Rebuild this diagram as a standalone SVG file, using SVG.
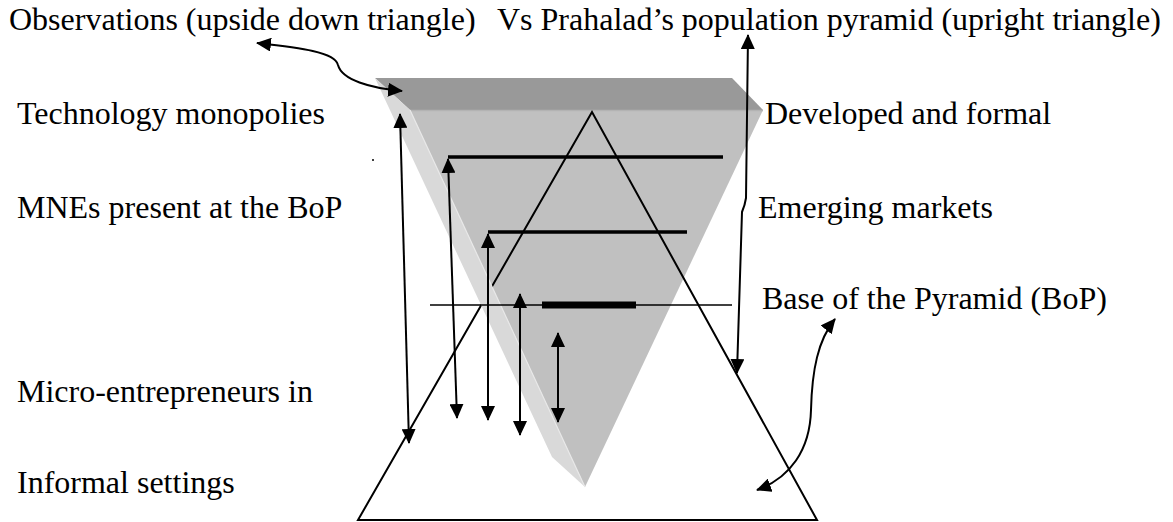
<svg xmlns="http://www.w3.org/2000/svg" width="1173" height="522" viewBox="0 0 1173 522">
  <style>
    .lbl { font-family: "Liberation Serif", "Times New Roman", serif; font-size: 32px; fill: #000; }
    .ln { stroke: #000; fill: none; }
    .arr { stroke: #000; stroke-width: 2; fill: none; marker-start: url(#ah); marker-end: url(#ah); }
  </style>
  <defs>
    <marker id="ah" viewBox="0 0 15 14" markerWidth="15" markerHeight="14" refX="14" refY="7" orient="auto-start-reverse" markerUnits="userSpaceOnUse">
      <path d="M0,0 L15,7 L0,14 Z" fill="#000"/>
    </marker>
  </defs>

  <rect width="1173" height="522" fill="#fff"/>

  <g id="inverted-triangle">
    <polygon points="410,110 763,110 585,487" fill="#c0c0c0"/>
    <polygon points="375,78 732,78 763,110 410,110" fill="#999999"/>
    <line x1="410" y1="110.5" x2="763" y2="110.5" stroke="#b3b3b3" stroke-width="1.5"/>
  </g>

  <g id="upright-triangle">
    <polygon points="592,112 358,520 817,520" class="ln" stroke-width="2" stroke-linejoin="miter"/>
  </g>

  <g id="inverted-triangle-side">
    <polygon points="375,78 410,110 585,487 552,457" fill="#d9d9d9"/>
    <line x1="410" y1="110" x2="585" y2="487" stroke="#e8e8e8" stroke-width="1.2"/>
  </g>

  <g id="levels">
    <line x1="448" y1="157" x2="723" y2="157" class="ln" stroke-width="3.5"/>
    <line x1="488" y1="232" x2="687" y2="232" class="ln" stroke-width="3.5"/>
    <line x1="430" y1="305" x2="732" y2="305" class="ln" stroke-width="1.5"/>
    <rect x="542" y="301.5" width="94" height="7" fill="#000"/>
  </g>

  <g id="connectors">
    <line x1="400" y1="114" x2="409" y2="443" class="arr"/>
    <line x1="448" y1="159" x2="457" y2="418" class="arr"/>
    <line x1="488" y1="234" x2="488" y2="420" class="arr"/>
    <line x1="520" y1="294" x2="520" y2="435" class="arr"/>
    <line x1="558" y1="333" x2="558" y2="422" class="arr"/>
    <path d="M748,35 L746,198 Q745,205 742,212 L737,373" class="arr"/>
    <path d="M257,43 C300,48 335,52 338,65 C342,80 370,88 402,91" class="arr" stroke-width="3"/>
    <path d="M835,319 C818,340 812,370 811,410 C810,450 790,478 757,490" class="arr"/>
  </g>

  <g id="labels">
    <text class="lbl" x="9" y="30">Observations (upside down triangle)</text>
    <text class="lbl" x="497" y="30">Vs Prahalad’s population pyramid (upright triangle)</text>
    <text class="lbl" x="17" y="124">Technology monopolies</text>
    <text class="lbl" x="17" y="218">MNEs present at the BoP</text>
    <text class="lbl" x="17" y="402">Micro-entrepreneurs in</text>
    <text class="lbl" x="17" y="493">Informal settings</text>
    <text class="lbl" x="765" y="124">Developed and formal</text>
    <text class="lbl" x="758" y="218">Emerging markets</text>
    <text class="lbl" x="762" y="309">Base of the Pyramid (BoP)</text>
    <circle cx="373" cy="160" r="1" fill="#000"/>
  </g>
</svg>
